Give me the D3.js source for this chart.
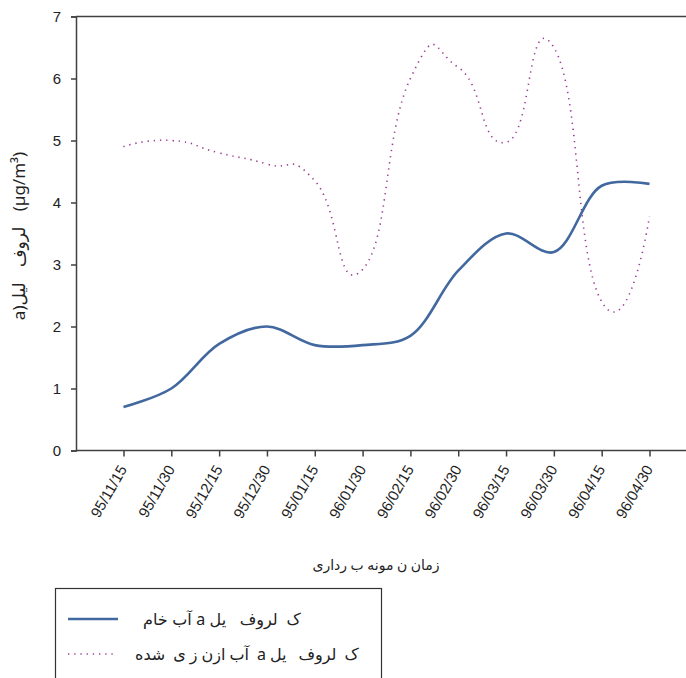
<!DOCTYPE html>
<html><head><meta charset="utf-8">
<script src="https://cdn.jsdelivr.net/npm/d3@7"></script>
<style>
html,body{margin:0;padding:0;background:#fff;}
svg{display:block;}
</style></head>
<body>
<svg id="c" width="686" height="678"></svg>
<script>
const categories = ["95/11/15","95/11/30","95/12/15","95/12/30","95/01/15","96/01/30","96/02/15","96/02/30","96/03/15","96/03/30","96/04/15","96/04/30"];
const rawWater = [0.7, 1.0, 1.72, 2.0, 1.7, 1.7, 1.85, 2.9, 3.5, 3.2, 4.27, 4.3];
const ozonatedWater = [4.9, 5.0, 4.8, 4.62, 4.35, 2.92, 6.0, 6.18, 4.97, 6.5, 2.4, 3.78];
const yTicks = [0,1,2,3,4,5,6,7];
const seriesNames = ["ک  لروف   یل a آب خام", "ک  لروف   یل a  آب ازن ز ی  شده"];
const xTitle = "زمان ن مونه ب رداری";
const yTitle = "a)لیل  لروف  (µg/m³)";

const svg = d3.select("#c");
const x = d3.scalePoint().domain(categories).range([123.5, 649.5]);
const y = d3.scaleLinear().domain([0,7]).range([450.5, 16.5]);
const axisColor = "#404040";
const left = 76, right = 686;
const textFont = "Liberation Sans, Arial, sans-serif";
const faFont = "Noto Sans, DejaVu Sans, sans-serif";

// Words laid out one by one (right-to-left word order when rtl is true), each word shaped normally.
function words(parent, str, x0, y0, size, anchor, rtl, spaceFactor) {
  const g = parent.append("g");
  const space = size * (spaceFactor || 0.28);
  let parts = str.split(/( +)/).filter(p => p.length);
  if (rtl) parts = parts.reverse();
  let cx = 0;
  parts.forEach(p => {
    if (/^ +$/.test(p)) { cx += space * p.length; return; }
    const t = g.append("text").attr("x", cx).attr("y", 0)
      .attr("font-family", faFont).attr("font-size", size).attr("fill", "#222").text(p);
    cx += t.node().getComputedTextLength();
  });
  const shift = anchor === "middle" ? -cx / 2 : 0;
  g.selectAll("text").attr("x", function() { return +d3.select(this).attr("x") + shift; });
  g.attr("transform", `translate(${x0},${y0})`);
  return g;
}

svg.append("line").attr("x1", left).attr("x2", right).attr("y1", y(0)).attr("y2", y(0))
  .attr("stroke", axisColor).attr("stroke-width", 1.5);
svg.append("line").attr("x1", left).attr("x2", right).attr("y1", y(7)).attr("y2", y(7))
  .attr("stroke", axisColor).attr("stroke-width", 1.5);

// y axis
const gy = svg.append("g").attr("transform", `translate(${left},0)`)
  .call(d3.axisLeft(y).tickValues(yTicks).tickSize(5).tickPadding(10).tickFormat(d3.format("d")));
gy.select(".domain").attr("stroke", axisColor).attr("stroke-width", 1.5);
gy.selectAll(".tick line").attr("stroke", axisColor).attr("stroke-width", 1.5);
gy.selectAll(".tick text").attr("font-family", textFont).attr("font-size", 15).attr("fill", "#222");

// x axis
const gx = svg.append("g").attr("transform", `translate(0,${y(0)})`)
  .call(d3.axisBottom(x).tickSize(6).tickPadding(4));
gx.select(".domain").remove();
gx.selectAll(".tick line").attr("stroke", axisColor).attr("stroke-width", 1.5);
gx.selectAll(".tick text")
  .attr("font-family", textFont).attr("font-size", 15).attr("fill", "#222")
  .attr("text-anchor", "end").attr("y", 0).attr("dy", "0.35em")
  .attr("transform", "translate(-1,16) rotate(-60)");

// smoothed lines
const rawLine = d3.line().x((d,i)=>x(categories[i])).y(d=>y(d)).curve(d3.curveCatmullRom.alpha(0.5));
const ozLine = d3.line().x((d,i)=>x(categories[i])).y(d=>y(d)).curve(d3.curveCardinal.tension(-0.7));
svg.append("path").datum(ozonatedWater).attr("d", ozLine).attr("fill","none")
  .attr("stroke", "#9a3a94").attr("stroke-width", 1.6).attr("stroke-dasharray", "1.3,4.9");
svg.append("path").datum(rawWater).attr("d", rawLine).attr("fill","none")
  .attr("stroke", "#41689f").attr("stroke-width", 2.6);

// axis titles
words(svg, xTitle, 376, 570, 14, "middle", true, 0.25);
const yt = svg.append("g").attr("transform", "translate(25,236) rotate(-90)");
words(yt, yTitle, 0, 0, 17, "middle", false, 0.45);

// legend
const lg = svg.append("g");
lg.append("rect").attr("x",55.5).attr("y",588.5).attr("width",326).attr("height",110)
  .attr("fill","#fff").attr("stroke","#333").attr("stroke-width",1.2);
lg.append("line").attr("x1",68).attr("x2",118).attr("y1",619).attr("y2",619)
  .attr("stroke","#41689f").attr("stroke-width",2.6);
lg.append("line").attr("x1",68).attr("x2",114).attr("y1",654).attr("y2",654)
  .attr("stroke","#9a3a94").attr("stroke-width",1.6).attr("stroke-dasharray","1.3,4.9");
words(lg, seriesNames[0], 143, 625, 16, "start", true);
words(lg, seriesNames[1], 135, 660, 16, "start", true, 0.25);
</script>
</body></html>
